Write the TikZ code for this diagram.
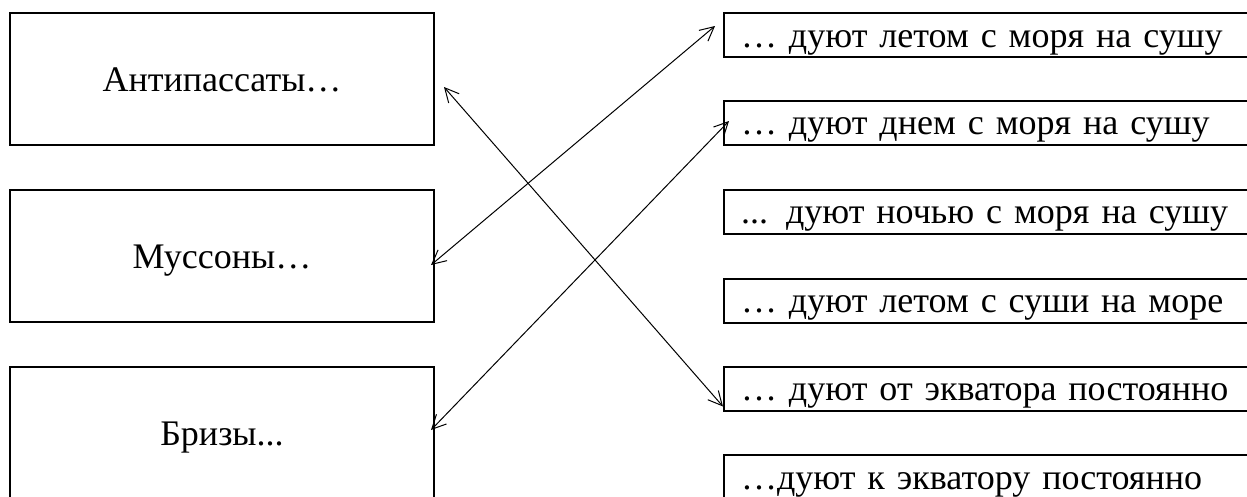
\documentclass[tikz,border=0pt]{standalone}
\usepackage{fontspec}
\setmainfont{Liberation Serif}
\usetikzlibrary{arrows.meta}
\begin{document}
\begin{tikzpicture}[x=1pt,y=1pt,
  lbox/.style={draw, line width=2pt, minimum width=424pt, minimum height=132pt, inner sep=0pt, text height=24pt, text depth=0pt, font=\fontsize{36}{40}\selectfont},
  rbox/.style={draw, line width=2pt, minimum width=560pt, minimum height=44pt, inner xsep=17pt, inner ysep=0pt, text width=526pt, text height=34pt, text depth=10pt, align=left, anchor=west, font=\fontsize{36}{40}\selectfont},
  link/.style={line width=1pt, {Straight Barb[length=14pt,width=14pt]}-{Straight Barb[length=14pt,width=14pt]}}]
\clip (0,0) rectangle (1247,-496);
\useasboundingbox (0,0) rectangle (1247,-496);
\node[lbox] (a1) at (222,-79) {Антипассаты…};
\node[lbox] (a2) at (222,-256) {Муссоны…};
\node[lbox] (a3) at (222,-433) {Бризы...};
\node[rbox] (r1) at (723,-35) {… дуют летом с моря на сушу};
\node[rbox] (r2) at (723,-122.5) {… дуют днем с моря на сушу};
\node[rbox] (r3) at (723,-211.5) {... дуют ночью с моря на сушу};
\node[rbox] (r4) at (723,-300.5) {… дуют летом с суши на море};
\node[rbox] (r5) at (723,-388.5) {… дуют от экватора постоянно};
\node[rbox] (r6) at (723,-477) {…дуют к экватору постоянно};
\coordinate (p1) at ([xshift=9pt,yshift=-8pt]a1.east);
\coordinate (q1) at ([yshift=5pt]r5.south west);
\coordinate (p2) at ([xshift=-4pt,yshift=-9pt]a2.east);
\coordinate (q2) at ([xshift=-8pt,yshift=9pt]r1.west);
\coordinate (p3) at ([xshift=-4pt,yshift=3pt]a3.east);
\coordinate (q3) at ([xshift=6pt,yshift=1.5pt]r2.west);
\draw[link] (p1) -- (q1);
\draw[link] (p2) -- (q2);
\draw[link] (p3) -- (q3);
\end{tikzpicture}
\end{document}
